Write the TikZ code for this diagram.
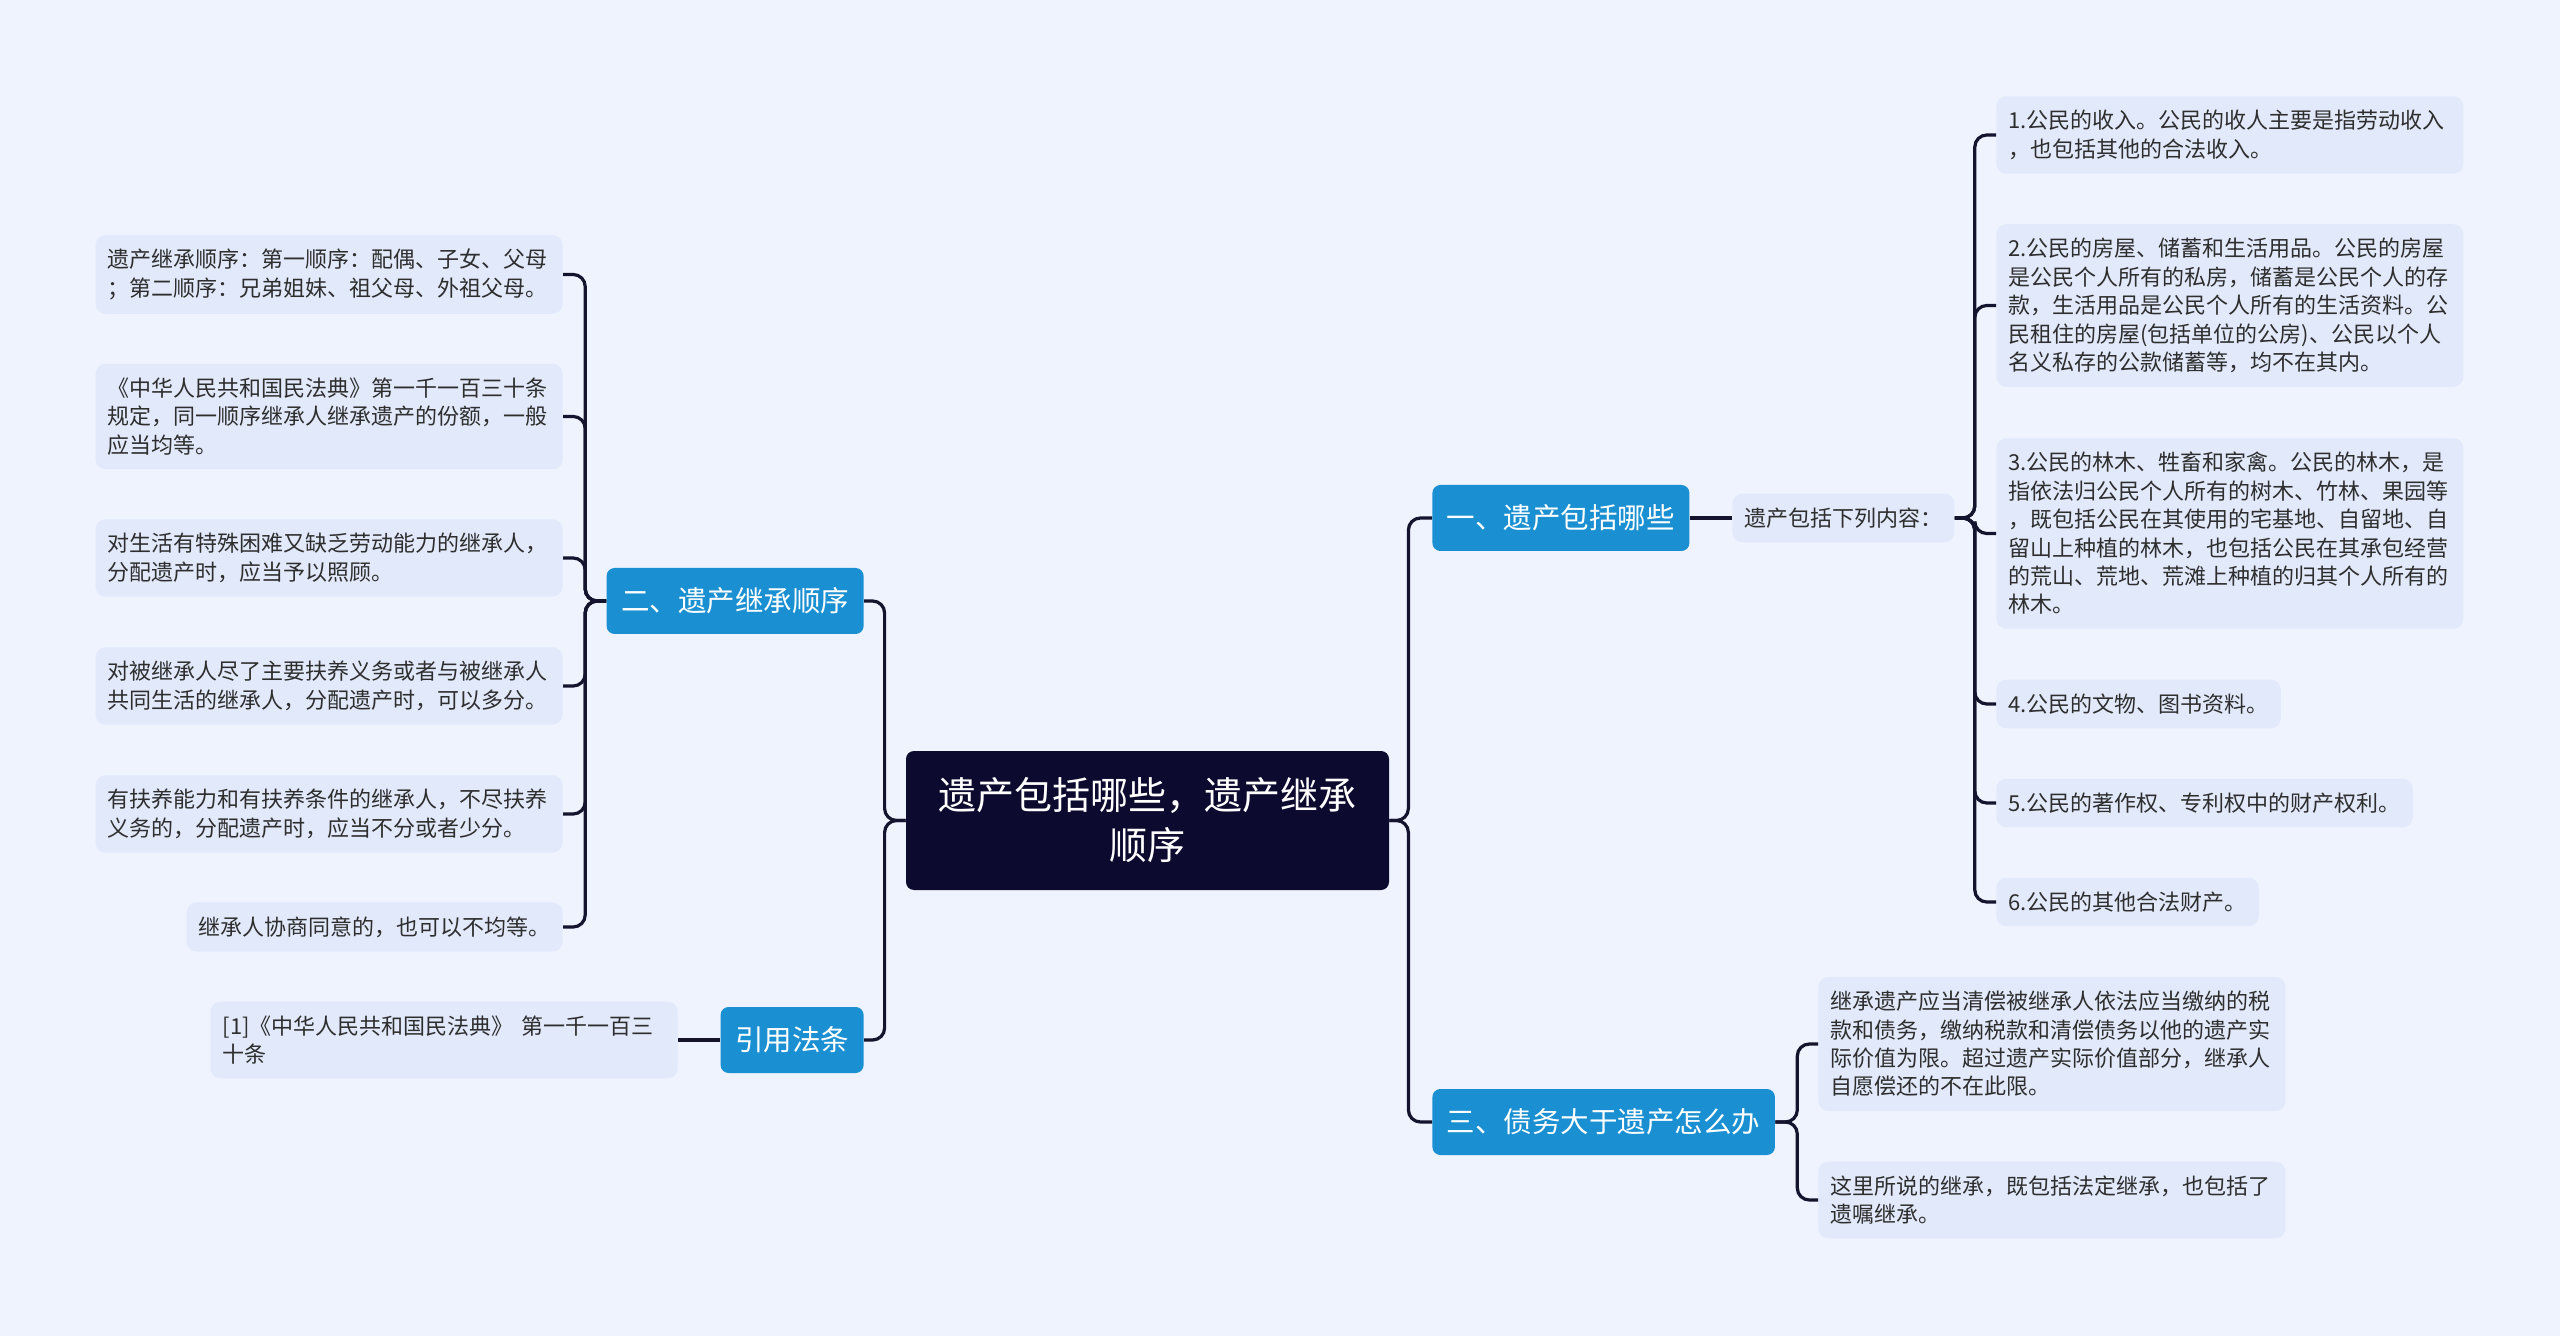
\documentclass[tikz,border=0pt]{standalone}
\usepackage{fontspec}
\setmainfont{Noto Sans CJK SC}
\usepackage{xcolor}
\usepackage{tikz}

\definecolor{bgblue}{HTML}{EEF3FD}
\definecolor{leafblue}{HTML}{E1E9FA}
\definecolor{branchblue}{HTML}{1A8FD1}
\definecolor{rootnavy}{HTML}{0C0A2E}
\definecolor{linknavy}{HTML}{14142E}
\definecolor{leaftext}{HTML}{2E2E2E}

\begin{document}
\begin{tikzpicture}[x=0.5pt,y=-0.5pt,
    rootbox/.style={fill=rootnavy,text=white,rounded corners=4pt,align=center,
      font=\fontsize{19}{25}\selectfont,minimum width=241.5pt,minimum height=69.5pt},
    branch/.style={fill=branchblue,text=white,rounded corners=4pt,
      font=\fontsize{14.25}{18}\selectfont,inner xsep=7.25pt,inner ysep=0pt,minimum height=33pt},
    leaf/.style={fill=leafblue,text=leaftext,rounded corners=5pt,align=left,
      font=\fontsize{11}{14.2}\selectfont,inner xsep=6pt,inner ysep=7pt},
    fixedwd/.style={text width=221.5pt},
    link/.style={draw=linknavy,line width=1.6pt,rounded corners=6pt}]
    \useasboundingbox (0,0) rectangle (2560,1336);
    \fill[bgblue] (0,0) rectangle (2560,1336);

    % centre and main branches
    \node[rootbox] (root) at (1147.5,820.5) {遗产包括哪些，遗产继承\\顺序};
    \node[branch,anchor=west] (incl) at (1432,518) {一、遗产包括哪些};
    \node[branch,anchor=west] (debt) at (1432,1122) {三、债务大于遗产怎么办};
    \node[branch,anchor=east] (order) at (864,601) {二、遗产继承顺序};
    \node[branch,anchor=east] (cite) at (864,1040) {引用法条};

    % right: what the estate includes
    \node[leaf,anchor=west] (incllist) at (1732,518) {遗产包括下列内容：};
    \node[leaf,fixedwd,anchor=west] (incl1) at (1996,135) {1.公民的收入。公民的收人主要是指劳动收入\\，也包括其他的合法收入。};
    \node[leaf,fixedwd,anchor=west] (incl2) at (1996,305.5) {2.公民的房屋、储蓄和生活用品。公民的房屋\\是公民个人所有的私房，储蓄是公民个人的存\\款，生活用品是公民个人所有的生活资料。公\\民租住的房屋(包括单位的公房)、公民以个人\\名义私存的公款储蓄等，均不在其内。};
    \node[leaf,fixedwd,anchor=west] (incl3) at (1996,533.5) {3.公民的林木、牲畜和家禽。公民的林木，是\\指依法归公民个人所有的树木、竹林、果园等\\，既包括公民在其使用的宅基地、自留地、自\\留山上种植的林木，也包括公民在其承包经营\\的荒山、荒地、荒滩上种植的归其个人所有的\\林木。};
    \node[leaf,anchor=west] (incl4) at (1996,704) {4.公民的文物、图书资料。};
    \node[leaf,anchor=west] (incl5) at (1996,803) {5.公民的著作权、专利权中的财产权利。};
    \node[leaf,anchor=west] (incl6) at (1996,902) {6.公民的其他合法财产。};

    % right: debts
    \node[leaf,fixedwd,anchor=west] (debt1) at (1818,1044) {继承遗产应当清偿被继承人依法应当缴纳的税\\款和债务，缴纳税款和清偿债务以他的遗产实\\际价值为限。超过遗产实际价值部分，继承人\\自愿偿还的不在此限。};
    \node[leaf,fixedwd,anchor=west] (debt2) at (1818,1200) {这里所说的继承，既包括法定继承，也包括了\\遗嘱继承。};

    % left: order of succession
    \node[leaf,fixedwd,anchor=east] (ord1) at (563,274.5) {遗产继承顺序：第一顺序：配偶、子女、父母\\；第二顺序：兄弟姐妹、祖父母、外祖父母。};
    \node[leaf,fixedwd,anchor=east] (ord2) at (563,416.5) {《中华人民共和国民法典》第一千一百三十条\\规定，同一顺序继承人继承遗产的份额，一般\\应当均等。};
    \node[leaf,fixedwd,anchor=east] (ord3) at (563,558) {对生活有特殊困难又缺乏劳动能力的继承人，\\分配遗产时，应当予以照顾。};
    \node[leaf,fixedwd,anchor=east] (ord4) at (563,686) {对被继承人尽了主要扶养义务或者与被继承人\\共同生活的继承人，分配遗产时，可以多分。};
    \node[leaf,fixedwd,anchor=east] (ord5) at (563,814) {有扶养能力和有扶养条件的继承人，不尽扶养\\义务的，分配遗产时，应当不分或者少分。};
    \node[leaf,anchor=east] (ord6) at (563,927) {继承人协商同意的，也可以不均等。};

    % left: cited article
    \node[leaf,fixedwd,anchor=east] (citeref) at (678,1040) {[1]《中华人民共和国民法典》 第一千一百三\\十条};

    % connectors
    \foreach \b in {incl,debt}
      \draw[link] (root.east) -- ++(19,0) |- (\b.west);
    \foreach \b in {order,cite}
      \draw[link] (root.west) -- ++(-21,0) |- (\b.east);
    \draw[link] (incl.east) -- (incllist.west);
    \foreach \n in {1,...,6}
      \draw[link] (incllist.east) -- ++(20,0) |- (incl\n.west);
    \foreach \n in {1,2}
      \draw[link] (debt.east) -- ++(22,0) |- (debt\n.west);
    \foreach \n in {1,...,6}
      \draw[link] (order.west) -- ++(-21,0) |- (ord\n.east);
    \draw[link] (cite.west) -- (citeref.east);
  \end{tikzpicture}
\end{document}
